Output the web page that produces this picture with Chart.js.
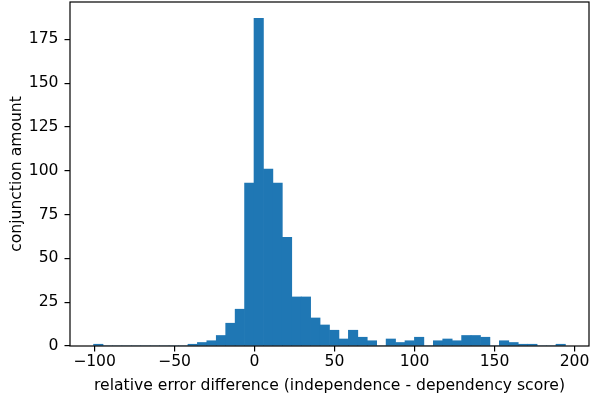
<!DOCTYPE html>
<html>
<head>
<meta charset="utf-8">
<script src="https://cdn.jsdelivr.net/npm/chart.js@4/dist/chart.umd.min.js"></script>
<style>
html,body{margin:0;padding:0;background:#fff;}
canvas{display:block;}
</style>
</head>
<body>
<canvas id="c" width="590" height="401"></canvas>
<script>
// Histogram data (50 bins)
const binStart = -100.6;
const binWidth = 5.898;
const counts = [
  1, 0, 0, 0, 0, 0, 0, 0, 0, 0,
  1, 2, 3, 6, 13, 21, 93, 187, 101, 93,
  62, 28, 28, 16, 12, 9, 4, 9, 5, 3,
  0, 4, 2, 3, 5, 0, 3, 4, 3, 6,
  6, 5, 0, 3, 2, 1, 1, 0, 0, 1
];
const xTicks = [-100, -50, 0, 50, 100, 150, 200];
const yTicks = [0, 25, 50, 75, 100, 125, 150, 175];
const xLabel = 'relative error difference (independence - dependency score)';
const yLabel = 'conjunction amount';

const dataPts = counts.map((c, i) => ({ x: binStart + (i + 0.5) * binWidth, y: c }));
const dataMin = binStart, dataMax = binStart + counts.length * binWidth;
const xMargin = (dataMax - dataMin) * 0.05;
const yMax = Math.max(...counts) * 1.05;

const font = { family: 'DejaVu Sans', size: 15.6 };
const fmt = v => (v < 0 ? '\u2212' + Math.abs(v) : String(v));

const frame = {
  id: 'frame',
  afterDatasetsDraw(chart) {
    const a = chart.chartArea, ctx = chart.ctx;
    ctx.save();
    ctx.strokeStyle = '#000';
    ctx.lineWidth = 1.2;
    ctx.strokeRect(a.left, a.top, a.right - a.left, a.bottom - a.top);
    ctx.restore();
  }
};

new Chart(document.getElementById('c'), {
  type: 'bar',
  data: {
    datasets: [{
      data: dataPts,
      backgroundColor: '#1f77b4',
      borderWidth: 0,
      barPercentage: 1,
      categoryPercentage: 1
    }]
  },
  options: {
    responsive: false,
    animation: false,
    devicePixelRatio: 1,
    layout: { padding: { top: 2, right: 1, left: 0, bottom: 0 } },
    plugins: { legend: { display: false }, tooltip: { enabled: false } },
    scales: {
      x: {
        type: 'linear',
        offset: false,
        min: dataMin - xMargin,
        max: dataMax + xMargin,
        afterBuildTicks: s => { s.ticks = xTicks.map(v => ({ value: v })); },
        afterFit: s => { s.height = 55; s.paddingLeft = 0; s.paddingRight = 0; },
        border: { display: false },
        grid: { offset: false, drawOnChartArea: false, drawTicks: true, tickLength: 5.5, color: '#000', lineWidth: 1.2 },
        ticks: { color: '#000', font, padding: 1, maxRotation: 0, autoSkip: false, callback: v => fmt(v) },
        title: { display: true, text: xLabel, color: '#000', font, padding: { top: 0, bottom: 6 } }
      },
      y: {
        type: 'linear',
        min: 0,
        max: yMax,
        afterBuildTicks: s => { s.ticks = yTicks.map(v => ({ value: v })); },
        afterFit: s => { s.width = 70; s.paddingTop = 0; s.paddingBottom = 0; },
        border: { display: false },
        grid: { drawOnChartArea: false, drawTicks: true, tickLength: 5.5, color: '#000', lineWidth: 1.2 },
        ticks: { color: '#000', font, padding: 6, autoSkip: false, callback: v => fmt(v) },
        title: { display: true, text: yLabel, color: '#000', font, padding: { top: 8, bottom: 0 } }
      }
    }
  },
  plugins: [frame]
});
</script>
</body>
</html>
